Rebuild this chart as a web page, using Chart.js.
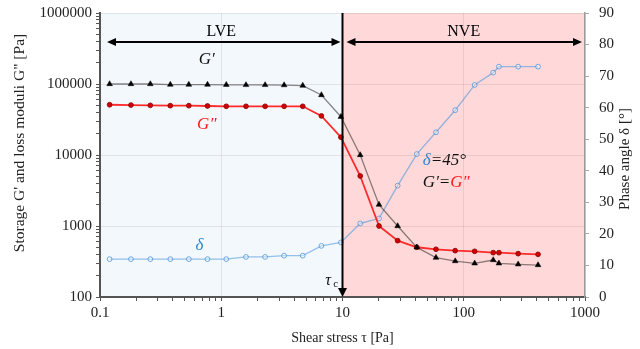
<!DOCTYPE html>
<html>
<head>
<meta charset="utf-8">
<script src="https://cdn.jsdelivr.net/npm/chart.js@4.4.1/dist/chart.umd.min.js"></script>
<style>
  html, body { margin: 0; padding: 0; background: #fff; }
  #wrap { width: 640px; height: 349px; }
</style>
</head>
<body>
<div id="wrap"><canvas id="rheoChart" width="640" height="349"></canvas></div>
<script>
/* amplitude sweep: G', G'' and phase angle vs shear stress */

// shear stress [Pa]
const stress = [0.12, 0.18, 0.26, 0.38, 0.54, 0.77, 1.1, 1.6, 2.3, 3.3, 4.7,
  6.7, 9.7, 14, 20, 28.5, 41, 59, 85, 123, 175, 195, 281, 410];
// storage modulus G' [Pa]
const storageG = [100000, 100000, 100000, 98000, 98000, 98000, 97500, 97000, 97000, 96500, 95000,
  70000, 34600, 10000, 2000, 1000, 500, 358, 321, 298, 332, 298, 289, 282];
// loss modulus G'' [Pa]
const lossG = [51000, 50500, 50000, 49500, 49500, 49000, 48500, 48500, 48500, 48500, 48500,
  35500, 17800, 5060, 1000, 621, 502, 470, 449, 440, 421, 421, 408, 399];
// phase angle delta [deg]
const phaseAngle = [12, 12, 12, 12, 12, 12, 12, 12.7, 12.7, 13.1, 13.1,
  16.2, 17.3, 23.3, 24.9, 35.3, 45.3, 52.2, 59.2, 67.2, 71.1, 73, 73, 73];

const xTickLabels = [0.1, 1, 10, 100, 1000];
const yTickLabels = [100, 1000, 10000, 100000, 1000000];
const phaseTicks = [0, 10, 20, 30, 40, 50, 60, 70, 80, 90];
const tauC = 10; // critical stress, LVE / NVE border

const SERIF = "'Liberation Serif', 'Times New Roman', serif";

function isDecade(v) {
  const l = Math.log10(v);
  return Math.abs(l - Math.round(l)) < 1e-9;
}

// all 1..9 x 10^n ticks between min and max
function logTicks(min, max) {
  const t = [];
  for (let e = Math.round(Math.log10(min)); e < Math.round(Math.log10(max)); e++) {
    for (let m = 1; m < 10; m++) t.push({ value: +(m * Math.pow(10, e)).toPrecision(6) });
  }
  t.push({ value: max });
  return t;
}

function arrowHead(ctx, x, y, dir, len, half) {
  ctx.beginPath();
  if (dir === 'left') { ctx.moveTo(x, y); ctx.lineTo(x + len, y - half); ctx.lineTo(x + len, y + half); }
  if (dir === 'right') { ctx.moveTo(x, y); ctx.lineTo(x - len, y - half); ctx.lineTo(x - len, y + half); }
  if (dir === 'down') { ctx.moveTo(x, y); ctx.lineTo(x - half, y - len); ctx.lineTo(x + half, y - len); }
  ctx.closePath();
  ctx.fill();
}

function dblArrow(ctx, x1, x2, y) {
  ctx.beginPath();
  ctx.moveTo(x1 + 4, y);
  ctx.lineTo(x2 - 4, y);
  ctx.stroke();
  arrowHead(ctx, x1, y, 'left', 9, 4);
  arrowHead(ctx, x2, y, 'right', 9, 4);
}

// draws pieces [[text, colour], ...] one after another
function richText(ctx, parts, x, y) {
  parts.forEach(([txt, col]) => {
    ctx.fillStyle = col;
    ctx.fillText(txt, x, y);
    x += ctx.measureText(txt).width;
  });
}

function vTitle(ctx, text, x, y, size) {
  ctx.save();
  ctx.translate(x, y);
  ctx.rotate(-Math.PI / 2);
  ctx.font = size + 'px ' + SERIF;
  ctx.fillStyle = '#222';
  ctx.textAlign = 'center';
  ctx.textBaseline = 'middle';
  ctx.fillText(text, 0, 0);
  ctx.restore();
}

const zonesPlugin = {
  id: 'zones',
  beforeDraw(chart) {
    const { ctx, chartArea: a, scales } = chart;
    const xc = scales.x.getPixelForValue(tauC);
    ctx.save();
    ctx.fillStyle = '#f3f8fc';
    ctx.fillRect(a.left, a.top, xc - a.left, a.bottom - a.top);
    ctx.fillStyle = '#ffd9d9';
    ctx.fillRect(xc, a.top, a.right - xc, a.bottom - a.top);
    ctx.restore();
  },
  afterDatasetsDraw(chart) {
    const { ctx, chartArea: a, scales } = chart;
    const x = scales.x, yl = scales.y, yr = scales.yPhase;
    const xc = x.getPixelForValue(tauC);
    ctx.save();
    ctx.strokeStyle = '#000';
    ctx.fillStyle = '#000';
    ctx.lineWidth = 2;

    // critical stress line with arrow at the bottom
    ctx.beginPath();
    ctx.moveTo(xc, a.top);
    ctx.lineTo(xc, a.bottom - 6);
    ctx.stroke();
    arrowHead(ctx, xc, a.bottom, 'down', 9, 4.5);

    // LVE / NVE arrows
    const ay = a.top + 29;
    dblArrow(ctx, a.left + 7, xc - 2, ay);
    dblArrow(ctx, xc + 4, a.right - 3, ay);

    ctx.textAlign = 'center';
    ctx.textBaseline = 'middle';
    ctx.font = '16px ' + SERIF;
    ctx.fillText('LVE', x.getPixelForValue(1), a.top + 19);
    ctx.fillText('NVE', x.getPixelForValue(100), a.top + 19);

    // series labels
    ctx.font = 'italic 17px ' + SERIF;
    ctx.fillStyle = '#111';
    ctx.fillText('G\u2032', x.getPixelForValue(0.76), yl.getPixelForValue(220000));
    ctx.fillStyle = '#ff1a1a';
    ctx.fillText('G\u2033', x.getPixelForValue(0.76), yl.getPixelForValue(27000));
    ctx.fillStyle = '#2f86d0';
    ctx.fillText('\u03b4', x.getPixelForValue(0.66), yr.getPixelForValue(16.3));

    ctx.textAlign = 'left';
    const lx = x.getPixelForValue(46);
    richText(ctx, [['\u03b4', '#2f86d0'], ['=45\u00b0', '#111']], lx, yr.getPixelForValue(43.4));
    richText(ctx, [['G\u2032=', '#111'], ['G\u2033', '#ff1a1a']], lx, yr.getPixelForValue(36.2));

    // tau_c
    ctx.fillStyle = '#111';
    ctx.font = 'italic 16px ' + SERIF;
    const tx = x.getPixelForValue(7.2), ty = yr.getPixelForValue(5.2);
    ctx.fillText('\u03c4', tx, ty);
    ctx.font = '11px ' + SERIF;
    ctx.fillText('c', tx + 8, ty + 4);
    ctx.restore();
  },
  afterDraw(chart) {
    const { ctx, chartArea: a } = chart;
    // both y titles read bottom to top
    vTitle(ctx, 'Storage G\' and loss moduli G" [Pa]', 20, a.top + 130, 15.5);
    vTitle(ctx, 'Phase angle \u03b4 [\u00b0]', 625, a.top + 146, 15);
  }
};

const pts = (ys) => stress.map((s, i) => ({ x: s, y: ys[i] }));

const tickFont = { family: SERIF, size: 15 };

new Chart(document.getElementById('rheoChart'), {
  type: 'scatter',
  data: {
    datasets: [
      {
        label: "G'",
        data: pts(storageG),
        yAxisID: 'y',
        showLine: true,
        borderColor: 'rgba(0,0,0,0.45)',
        borderWidth: 1.3,
        pointStyle: 'triangle',
        pointRadius: 3.3,
        pointBackgroundColor: '#000',
        pointBorderColor: '#000',
        pointBorderWidth: 0.5
      },
      {
        label: "G''",
        data: pts(lossG),
        yAxisID: 'y',
        showLine: true,
        borderColor: '#ff2a2a',
        borderWidth: 1.8,
        pointStyle: 'circle',
        pointRadius: 2.4,
        pointBackgroundColor: '#d00000',
        pointBorderColor: '#8a0000',
        pointBorderWidth: 0.8
      },
      {
        label: 'delta',
        data: pts(phaseAngle),
        yAxisID: 'yPhase',
        showLine: true,
        borderColor: 'rgba(70,145,220,0.55)',
        borderWidth: 1.4,
        pointStyle: 'circle',
        pointRadius: 2.4,
        pointBackgroundColor: 'rgba(255,255,255,0.35)',
        pointBorderColor: 'rgba(70,145,220,0.75)',
        pointBorderWidth: 1
      }
    ]
  },
  options: {
    responsive: false,
    animation: false,
    devicePixelRatio: 1,
    layout: { padding: { top: 13, left: 8, right: 8, bottom: 0 } },
    plugins: { legend: { display: false }, tooltip: { enabled: false } },
    scales: {
      x: {
        type: 'logarithmic',
        min: 0.1,
        max: 1000,
        afterBuildTicks: (s) => { s.ticks = logTicks(0.1, 1000); },
        afterFit: (s) => { s.height = 52; s.paddingLeft = 0; s.paddingRight = 0; },
        ticks: {
          autoSkip: false, maxRotation: 0, padding: 3,
          font: tickFont, color: '#222',
          callback: (v) => (xTickLabels.includes(v) ? String(v) : '')
        },
        grid: {
          color: (c) => (c.tick && isDecade(c.tick.value) ? 'rgba(0,0,0,0.08)' : 'rgba(0,0,0,0)'),
          lineWidth: 1,
          tickColor: '#555',
          tickWidth: 1,
          tickLength: 4
        },
        border: { color: '#555', width: 2 },
        title: { display: true, text: 'Shear stress \u03c4 [Pa]', font: { family: SERIF, size: 14 }, color: '#222', padding: { top: 2, bottom: 2 } }
      },
      y: {
        type: 'logarithmic',
        position: 'left',
        min: 100,
        max: 1000000,
        afterBuildTicks: (s) => { s.ticks = logTicks(100, 1000000); },
        afterFit: (s) => { s.width = 92; s.paddingTop = 0; s.paddingBottom = 0; },
        ticks: {
          autoSkip: false, padding: 4,
          font: tickFont, color: '#222',
          callback: (v) => (yTickLabels.includes(v) ? String(v) : '')
        },
        grid: {
          color: (c) => (c.tick && isDecade(c.tick.value) ? 'rgba(0,0,0,0.08)' : 'rgba(0,0,0,0)'),
          lineWidth: 1,
          tickColor: '#555',
          tickWidth: 1,
          tickLength: 4
        },
        border: { color: '#555', width: 2 }
      },
      yPhase: {
        type: 'linear',
        position: 'right',
        min: 0,
        max: 90,
        afterBuildTicks: (s) => { s.ticks = phaseTicks.map((v) => ({ value: v })); },
        afterFit: (s) => { s.width = 47; s.paddingTop = 0; s.paddingBottom = 0; },
        ticks: { padding: 10, font: tickFont, color: '#222' },
        grid: { drawOnChartArea: false, tickColor: '#aaa', tickLength: 4 },
        border: { color: '#999', width: 1.5 }
      }
    }
  },
  plugins: [zonesPlugin]
});
</script>
</body>
</html>
